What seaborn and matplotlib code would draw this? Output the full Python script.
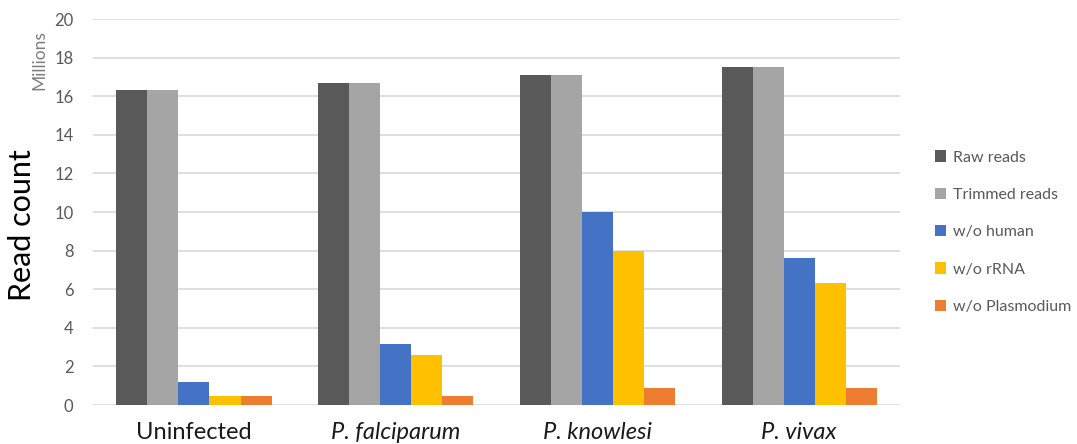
import numpy as np
import pandas as pd
import matplotlib.pyplot as plt
import seaborn as sns

groups = ["Uninfected", "P. falciparum", "P. knowlesi", "P. vivax"]
series = ["Raw reads", "Trimmed reads", "w/o human", "w/o rRNA", "w/o Plasmodium"]
raw_reads = [16.3, 16.7, 17.1, 17.5]
trimmed_reads = [16.3, 16.7, 17.1, 17.5]
wo_human = [1.2, 3.15, 10.0, 7.6]
wo_rrna = [0.45, 2.6, 8.0, 6.3]
wo_plasmodium = [0.45, 0.45, 0.9, 0.9]
colors = ["#595959", "#A5A5A5", "#4472C4", "#FFC000", "#ED7D31"]

vals = [raw_reads, trimmed_reads, wo_human, wo_rrna, wo_plasmodium]
rows = []
for s, v in zip(series, vals):
    for g, x in zip(groups, v):
        rows.append({"group": g, "series": s, "count": x})
df = pd.DataFrame(rows)

sns.set_style("white")
plt.rcParams['font.family'] = ['Lato', 'DejaVu Sans']

fig = plt.figure(figsize=(10.77, 4.44), dpi=100)
ax = fig.add_axes([0.0864, 0.0878, 0.7493, 0.8692])

sns.barplot(data=df, x="group", y="count", hue="series", order=groups,
            hue_order=series, palette=colors, width=0.77, gap=0,
            saturation=1, ax=ax, zorder=3, linewidth=0)

ax.set_ylim(0, 20)
ax.set_yticks(np.arange(0, 21, 2))
ax.yaxis.grid(True, color="#D9D9D9", linewidth=1.2, zorder=0)
ax.set_axisbelow(True)
for sp in ax.spines.values():
    sp.set_visible(False)
ax.tick_params(axis="y", length=0, labelsize=12, labelcolor="#595959", pad=14)
ax.tick_params(axis="x", length=0, labelsize=17, labelcolor="#1a1a1a", pad=12)
for lbl in ax.get_xticklabels():
    if lbl.get_text().startswith("P."):
        lbl.set_style("italic")
ax.set_xlabel("")
ax.set_ylabel("")

fig.text(0.02, 0.493, "Read count", rotation=90, fontsize=22, color="black",
         ha="center", va="center")
fig.text(0.037, 0.865, "Millions", rotation=90, fontsize=12.5, color="#7f7f7f",
         ha="center", va="center")

handles, labels = ax.get_legend_handles_labels()
ax.legend_.remove()
fig.legend(handles, labels, loc="center left", bbox_to_anchor=(0.855, 0.477),
           frameon=False, fontsize=11.5, labelcolor="#595959",
           handlelength=0.7, handleheight=0.7, handletextpad=0.4,
           labelspacing=1.45)

fig.savefig("out.png", dpi=100)
